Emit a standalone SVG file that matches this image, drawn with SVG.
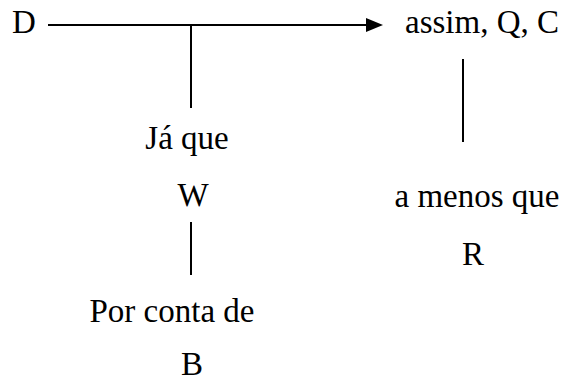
<svg xmlns="http://www.w3.org/2000/svg" width="561" height="383" viewBox="0 0 561 383">
<rect width="561" height="383" fill="#fff"/>
<g id="connectors" stroke="#000" stroke-width="2">
<line x1="48" y1="25" x2="368" y2="25"/>
<path d="M366,18 L383,25 L366,32 z" fill="#000" stroke="none"/>
<line x1="191" y1="26" x2="191" y2="108"/>
<line x1="463" y1="59" x2="463" y2="142"/>
<line x1="191" y1="222" x2="191" y2="275"/>
</g>
<g id="D"><text x="12" y="33" font-family="Liberation Serif" font-size="33">D</text></g>
<g id="C"><text x="405" y="33" font-family="Liberation Serif" font-size="33">assim, Q, C</text></g>
<g id="W"><text x="187" y="149" text-anchor="middle" font-family="Liberation Serif" font-size="33">Já que</text><text x="193" y="206" text-anchor="middle" font-family="Liberation Serif" font-size="33">W</text></g>
<g id="R"><text x="477" y="207" text-anchor="middle" font-family="Liberation Serif" font-size="33">a menos que</text><text x="473" y="265" text-anchor="middle" font-family="Liberation Serif" font-size="33">R</text></g>
<g id="B"><text x="172" y="322" text-anchor="middle" font-family="Liberation Serif" font-size="33">Por conta de</text><text x="192" y="375" text-anchor="middle" font-family="Liberation Serif" font-size="33">B</text></g>
</svg>
